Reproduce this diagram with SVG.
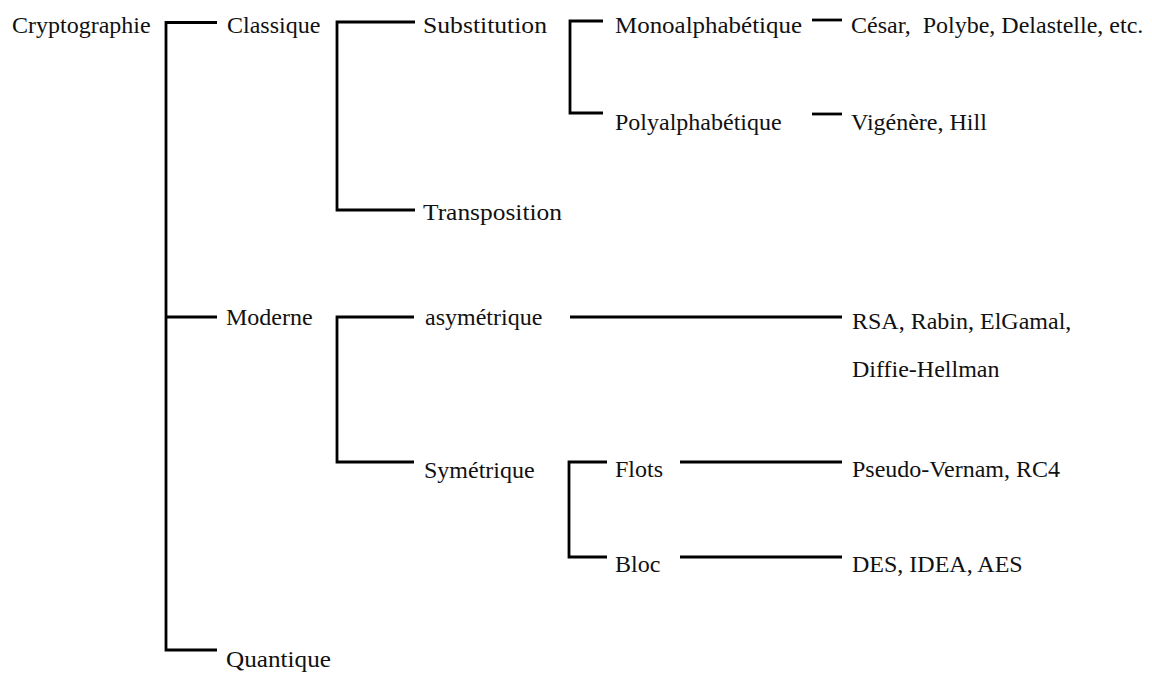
<svg xmlns="http://www.w3.org/2000/svg" width="1152" height="673" viewBox="0 0 1152 673">
<style>
text{font-family:'Liberation Serif','Times New Roman',serif;font-size:24px;fill:#111}
.c path{fill:none;stroke:#000;stroke-width:2.8;stroke-linejoin:miter;stroke-linecap:butt}
</style>
<rect width="1152" height="673" fill="#fff"/>
<g class="c" id="connectors">
<path d="M217,22.5 H166 V650 H217"/>
<path d="M166,317 H217"/>
<path d="M415,22 H337 V210 H415"/>
<path d="M603,21 H570 V113 H603"/>
<path d="M812,20 H842"/>
<path d="M812,114 H842"/>
<path d="M414,317 H337 V462 H414"/>
<path d="M570,317 H842"/>
<path d="M607,462 H569 V557 H607"/>
<path d="M680,462 H842"/>
<path d="M680,557 H842"/>
</g>
<g id="n-cryptographie"><text x="12" y="33">Cryptographie</text></g>
<g id="n-classique"><text x="227" y="33">Classique</text></g>
<g id="n-substitution"><text x="423" y="33" textLength="124" lengthAdjust="spacingAndGlyphs">Substitution</text></g>
<g id="n-mono"><text x="615" y="33" textLength="187" lengthAdjust="spacingAndGlyphs">Monoalphabétique</text></g>
<g id="n-cesar"><text x="851" y="33" xml:space="preserve">César,  Polybe, Delastelle, etc.</text></g>
<g id="n-poly"><text x="615" y="130">Polyalphabétique</text></g>
<g id="n-vigenere"><text x="851" y="130">Vigénère, Hill</text></g>
<g id="n-transposition"><text x="423" y="220" textLength="139" lengthAdjust="spacingAndGlyphs">Transposition</text></g>
<g id="n-moderne"><text x="226" y="325">Moderne</text></g>
<g id="n-asym"><text x="425" y="325">asymétrique</text></g>
<g id="n-rsa"><text x="852" y="329">RSA, Rabin, ElGamal,</text><text x="852" y="377">Diffie-Hellman</text></g>
<g id="n-sym"><text x="424" y="478">Symétrique</text></g>
<g id="n-flots"><text x="615" y="477">Flots</text></g>
<g id="n-pseudo"><text x="852" y="477">Pseudo-Vernam, RC4</text></g>
<g id="n-bloc"><text x="615" y="572">Bloc</text></g>
<g id="n-des"><text x="852" y="572">DES, IDEA, AES</text></g>
<g id="n-quantique"><text x="226" y="667" textLength="105" lengthAdjust="spacingAndGlyphs">Quantique</text></g>
</svg>
